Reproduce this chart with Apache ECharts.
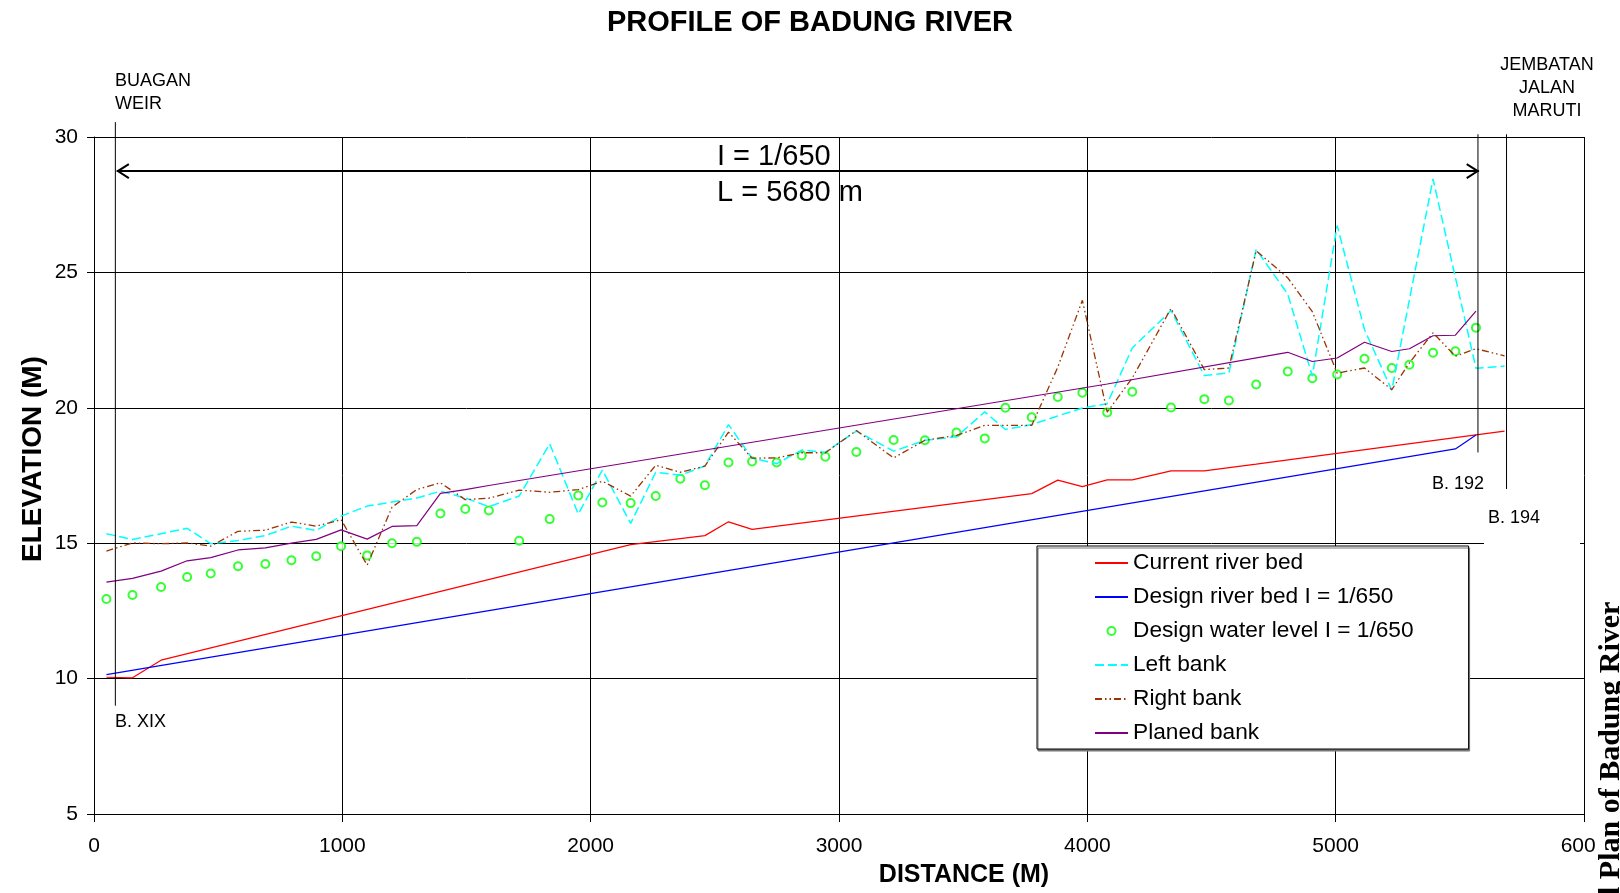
<!DOCTYPE html>
<html>
<head>
<meta charset="utf-8">
<title>Profile of Badung River</title>
<script src="https://cdn.jsdelivr.net/npm/echarts@6/dist/echarts.min.js"></script>
<style>
html, body { margin: 0; padding: 0; background: #fff; }
#container { width: 1620px; height: 893px; }
</style>
</head>
<body>
<div id="container"></div>
<script>
// cross section stations (distance in m)
var stations = [50, 155, 270, 375, 470, 580, 690, 795, 895, 995,
    1100, 1200, 1300, 1395, 1495, 1590, 1712, 1835, 1950, 2047,
    2161, 2262, 2361, 2460, 2555, 2650, 2749, 2850, 2945, 3070,
    3220, 3346, 3473, 3587, 3670, 3776, 3881, 3980, 4080, 4181,
    4337, 4471, 4570, 4680, 4807, 4906, 5006, 5116, 5226, 5297,
    5392, 5482, 5565, 5680];

var waterLevel = [12.94, 13.09, 13.38, 13.75, 13.88, 14.15, 14.23, 14.37, 14.52, 14.89,
    14.55, 15.0, 15.05, 16.10, 16.26, 16.21, 15.09, 15.89, 16.76, 16.50,
    16.48, 16.74, 17.38, 17.14, 17.98, 18.02, 17.98, 18.24, 18.19, 18.37,
    18.81, 18.80, 19.09, 18.87, 20.0, 19.65, 20.40, 20.56, 19.83, 20.59,
    20.01, 20.32, 20.27, 20.86, 21.34, 21.09, 21.23, 21.81, 21.47, 21.59,
    22.03, 22.09, 22.96, null];

var leftBank = [15.35, 15.14, 15.35, 15.55, 14.98, 15.10, 15.28, 15.63, 15.47, 16.0,
    16.37, 16.52, 16.67, 16.92, 16.67, 16.35, 16.74, 18.67, 16.08, 17.70,
    15.73, 17.62, 17.51, 17.85, 19.38, 18.14, 17.94, 18.44, 18.36, 19.14,
    18.40, 18.80, 18.93, 19.85, 19.2, 19.38, 19.7, 19.99, 20.15, 22.21,
    23.59, 21.19, 21.29, 25.85, 24.2, 21.17, 26.73, 22.89, 20.65, null,
    28.45, null, 21.46, 21.54];

var rightBank = [14.71, 15.01, 14.98, 15.01, 14.89, 15.44, 15.48, 15.78, 15.63, 15.87,
    14.19, 16.33, 16.98, 17.23, 16.61, 16.66, 16.96, 16.88, 16.98, 17.29,
    16.74, 17.88, 17.62, 17.85, 19.1, 18.14, 18.15, 18.34, 18.34, 19.16,
    18.15, 18.8, 18.98, 19.35, 19.35, 19.35, 21.5, 23.97, 19.84, 21.1,
    23.67, 21.41, 21.47, 25.8, 24.8, 23.55, 21.28, 21.47, 20.67, 21.66,
    22.77, 21.91, 22.18, 21.92];

var planedBank = [13.56, 13.70, 13.97, 14.35, 14.47, 14.75, 14.83, 15.0, 15.14, 15.49,
    15.15, 15.62, 15.65, 16.84, 16.98, 17.13, null, null, null, null,
    null, null, null, null, null, null, null, null, null, null,
    null, null, null, null, null, null, null, null, 20.88, null,
    null, null, null, null, 22.05, 21.71, 21.84, 22.42, 22.08, 22.18,
    22.66, 22.68, 23.57, null];

// river bed lines, only at their bends
var bedDistance = [50, 155, 270, 2161, 2460, 2555, 2650, 3776, 3881, 3980,
    4080, 4181, 4337, 4471, 4680, 5565, 5680];
var currentBed = [10.05, 10.03, 10.68, 14.95, 15.28, 15.79, 15.51, 16.83, 17.33, 17.09,
    17.34, 17.34, 17.67, 17.67, 17.92, 19.0, 19.14];
var designDistance = [50, 5482, 5565];
var designBed = [10.15, 18.48, 19.0];

// bench marks and the slope arrow (distance, elevation)
var markNames = ['B. XIX', 'B. 192', 'B. 194'];
var markDistance = [86, 5573, 5688];
var markLow = [9.0, 18.35, 17.0];
var markHigh = [30.55, 30.1, 30.1];
var slopeFrom = 92, slopeTo = 5576, slopeLevel = 28.74;

var xTicks = [0, 1000, 2000, 3000, 4000, 5000, 6000];
var yTicks = [5, 10, 15, 20, 25, 30];

var FONT = '"Liberation Sans", Arial, sans-serif';

function pairs(xs, ys) {
    var out = [];
    for (var i = 0; i < xs.length; i++) {
        if (ys[i] !== null) out.push([xs[i], ys[i]]);
    }
    return out;
}

var dom = document.getElementById('container');
var myChart = echarts.init(dom);

var noDot = { opacity: 0 };
var option = {
    animation: false,
    backgroundColor: '#fff',
    title: {
        text: 'PROFILE OF BADUNG RIVER',
        left: 'center',
        top: 8,
        padding: 0,
        textStyle: { fontSize: 29, fontWeight: 'bold', fontFamily: FONT, color: '#000' }
    },
    legend: {
        orient: 'vertical',
        left: 1037,
        top: 546,
        itemWidth: 33,
        itemHeight: 8,
        itemGap: 10,
        padding: [5, 55, 4, 57],
        backgroundColor: '#fff',
        borderColor: '#000',
        borderWidth: 1,
        shadowColor: '#777',
        shadowOffsetX: 1,
        shadowOffsetY: 2,
        shadowBlur: 0,
        selectedMode: false,
        textStyle: { fontSize: 22.7, lineHeight: 24, fontFamily: FONT, color: '#000' },
        data: [
            { name: 'Current river bed', itemStyle: noDot },
            { name: 'Design river bed I = 1/650', itemStyle: noDot },
            { name: 'Design water level I = 1/650' },
            { name: 'Left bank', itemStyle: noDot },
            { name: 'Right bank', itemStyle: noDot },
            { name: 'Planed bank', itemStyle: noDot }
        ]
    },
    grid: {
        left: 94,
        right: 36,
        top: 137,
        bottom: 79,
        containLabel: false,
        outerBoundsMode: 'none'
    },
    xAxis: {
        type: 'value',
        min: xTicks[0],
        max: xTicks[xTicks.length - 1],
        interval: 1000,
        axisLine: { show: true, onZero: false, lineStyle: { color: '#000', width: 1 } },
        axisTick: { show: true, length: 8, lineStyle: { color: '#000' } },
        splitLine: { show: true, lineStyle: { color: '#000', width: 1 } },
        axisLabel: {
            fontSize: 21, fontFamily: FONT, color: '#000', margin: 22,
            formatter: function (v) { return String(v); }
        }
    },
    yAxis: {
        type: 'value',
        min: yTicks[0],
        max: yTicks[yTicks.length - 1],
        interval: 5,
        axisLine: { show: true, lineStyle: { color: '#000', width: 1 } },
        axisTick: { show: true, length: 7, lineStyle: { color: '#000' } },
        splitLine: { show: true, lineStyle: { color: '#000', width: 1 } },
        axisLabel: {
            fontSize: 21, fontFamily: FONT, color: '#000', margin: 16,
            formatter: function (v) { return String(v); }
        }
    },
    series: [{
        name: 'Current river bed',
        type: 'line',
        symbol: 'none',
        lineStyle: { color: '#ff0000', width: 1.2 },
        itemStyle: { color: '#ff0000' },
        data: pairs(bedDistance, currentBed)
    }, {
        name: 'Design river bed I = 1/650',
        type: 'line',
        symbol: 'none',
        lineStyle: { color: '#0000ff', width: 1.2 },
        itemStyle: { color: '#0000ff' },
        data: pairs(designDistance, designBed)
    }, {
        name: 'Design water level I = 1/650',
        type: 'scatter',
        symbol: 'emptyCircle',
        symbolSize: 8,
        itemStyle: { color: '#00ff00', borderColor: '#00ff00', borderWidth: 1.2 },
        data: pairs(stations, waterLevel)
    }, {
        name: 'Left bank',
        type: 'line',
        symbol: 'none',
        lineStyle: { color: '#00ffff', width: 1.5, type: [9, 4] },
        itemStyle: { color: '#00ffff' },
        data: pairs(stations, leftBank)
    }, {
        name: 'Right bank',
        type: 'line',
        symbol: 'none',
        lineStyle: { color: '#993300', width: 1.3, type: [7, 3, 1.5, 3, 1.5, 3] },
        itemStyle: { color: '#993300' },
        data: pairs(stations, rightBank)
    }, {
        name: 'Planed bank',
        type: 'line',
        symbol: 'none',
        lineStyle: { color: '#800080', width: 1.2 },
        itemStyle: { color: '#800080' },
        data: pairs(stations, planedBank)
    }]
};

myChart.setOption(option);

// annotations: positions taken from the chart's own scales
function px(x, y) {
    return myChart.convertToPixel({ gridIndex: 0 }, [x, y]);
}

var g = [];
for (var i = 0; i < markNames.length; i++) {
    var lo = px(markDistance[i], markLow[i]);
    var hi = px(markDistance[i], markHigh[i]);
    g.push({
        type: 'line', z: 100,
        shape: { x1: lo[0], y1: lo[1], x2: hi[0], y2: hi[1] },
        style: { stroke: '#000', lineWidth: 1 }
    });
}

// white box behind B. 194 label
g.push({ type: 'rect', z: 99, shape: { x: 1484, y: 500, width: 96, height: 47 }, style: { fill: '#fff' } });
g.push({ type: 'text', z: 101, x: 115, y: 722, style: { text: markNames[0], font: '18px ' + FONT, fill: '#000', align: 'left', verticalAlign: 'middle' } });
g.push({ type: 'text', z: 101, x: 1484, y: 484, style: { text: markNames[1], font: '18px ' + FONT, fill: '#000', align: 'right', verticalAlign: 'middle' } });
g.push({ type: 'text', z: 101, x: 1488, y: 518, style: { text: markNames[2], font: '18px ' + FONT, fill: '#000', align: 'left', verticalAlign: 'middle' } });

// slope arrow
var a1 = px(slopeFrom, slopeLevel), a2 = px(slopeTo, slopeLevel);
g.push({ type: 'line', z: 100, shape: { x1: a1[0], y1: a1[1], x2: a2[0], y2: a2[1] }, style: { stroke: '#000', lineWidth: 2 } });
g.push({ type: 'polyline', z: 100, shape: { points: [[a1[0] + 12, a1[1] - 7], [a1[0] + 1, a1[1]], [a1[0] + 12, a1[1] + 7]] }, style: { stroke: '#000', lineWidth: 2, fill: null } });
g.push({ type: 'polyline', z: 100, shape: { points: [[a2[0] - 12, a2[1] - 7], [a2[0] - 1, a2[1]], [a2[0] - 12, a2[1] + 7]] }, style: { stroke: '#000', lineWidth: 2, fill: null } });
g.push({ type: 'text', z: 101, x: 717, y: 157, style: { text: 'I = 1/650', font: '29px ' + FONT, fill: '#000', align: 'left', verticalAlign: 'middle' } });
g.push({ type: 'text', z: 101, x: 717, y: 193, style: { text: 'L = 5680 m', font: '29px ' + FONT, fill: '#000', align: 'left', verticalAlign: 'middle' } });

// place names
g.push({ type: 'text', z: 101, x: 115, y: 93, style: { text: 'BUAGAN\nWEIR', font: '18px ' + FONT, lineHeight: 23, fill: '#000', align: 'left', verticalAlign: 'middle' } });
g.push({ type: 'text', z: 101, x: 1547, y: 88, style: { text: 'JEMBATAN\nJALAN\nMARUTI', font: '18px ' + FONT, lineHeight: 23, fill: '#000', align: 'center', verticalAlign: 'middle' } });

// axis titles
g.push({ type: 'text', z: 101, x: 964, y: 875, style: { text: 'DISTANCE (M)', font: 'bold 25px ' + FONT, fill: '#000', align: 'center', verticalAlign: 'middle' } });
g.push({ type: 'text', z: 101, x: 33, y: 459, rotation: Math.PI / 2, style: { text: 'ELEVATION (M)', font: 'bold 28px ' + FONT, fill: '#000', align: 'center', verticalAlign: 'middle' } });

// page caption running along the right edge
g.push({ type: 'text', z: 102, x: 1611, y: 897, rotation: Math.PI / 2, style: { text: 'l Plan of Badung River', font: 'bold 30px "Liberation Serif", "Times New Roman", serif', fill: '#000', align: 'left', verticalAlign: 'middle', backgroundColor: '#fff', padding: [0, 2, 0, 2] } });

myChart.setOption({ graphic: g });
</script>
</body>
</html>
